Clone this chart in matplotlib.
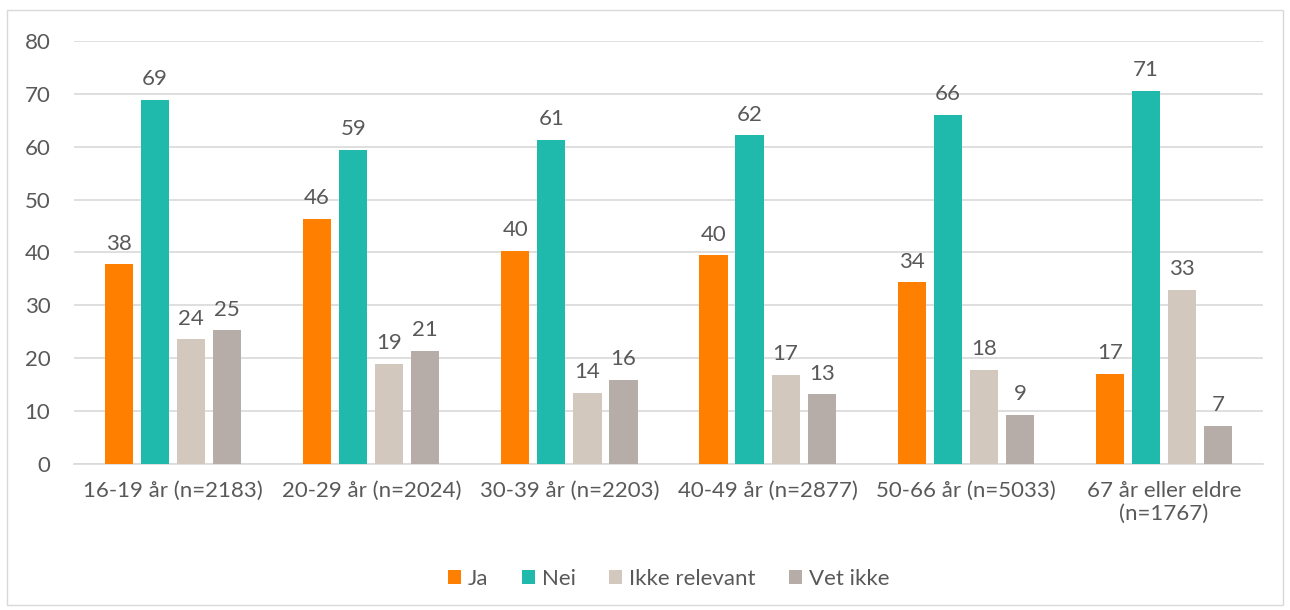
import matplotlib
matplotlib.use('Agg')
import matplotlib.pyplot as plt
import numpy as np
from matplotlib.patches import Rectangle

categories = ['16-19 år (n=2183)', '20-29 år (n=2024)', '30-39 år (n=2203)',
              '40-49 år (n=2877)', '50-66 år (n=5033)', '67 år eller eldre\n(n=1767)']
series_names = ['Ja', 'Nei', 'Ikke relevant', 'Vet ikke']
ja = [37.8, 46.4, 40.3, 39.5, 34.4, 17.1]
nei = [68.9, 59.4, 61.3, 62.2, 66.0, 70.6]
ikke_relevant = [23.6, 18.9, 13.5, 16.9, 17.8, 32.9]
vet_ikke = [25.3, 21.4, 15.9, 13.2, 9.3, 7.2]
colors = ['#FF7F00', '#20BAAD', '#D3C8BE', '#B6ADA8']

plt.rcParams['font.family'] = ['Lato', 'DejaVu Sans']
text_color = '#595959'
fs = 16

fig = plt.figure(figsize=(12.9, 6.1), dpi=100)
ax = fig.add_axes([74 / 1290, 1 - 464 / 610, (1263 - 74) / 1290, (464 - 41) / 610])

# outer chart frame
fig.patches.append(Rectangle((7 / 1290, 5 / 610), 1276 / 1290, 595 / 610,
                             transform=fig.transFigure, fill=False,
                             edgecolor='#D9D9D9', linewidth=1))

x = np.arange(len(categories))
step = 0.182
width = 0.142
all_series = [ja, nei, ikke_relevant, vet_ikke]
for i, (vals, name, c) in enumerate(zip(all_series, series_names, colors)):
    pos = x + (i - 1.5) * step
    ax.bar(pos, vals, width, color=c, label=name, zorder=3)
    for xp, v in zip(pos, vals):
        ax.text(xp, v + 2, '%d' % round(v), ha='center', va='bottom',
                fontsize=fs, color=text_color)

ax.set_xlim(-0.5, len(categories) - 0.5)
ax.set_ylim(0, 80)
ax.set_yticks(range(0, 81, 10))
ax.yaxis.grid(True, color='#D9D9D9', linewidth=1.2, zorder=0)
ax.set_axisbelow(True)
for s in ['top', 'right', 'left']:
    ax.spines[s].set_visible(False)
ax.spines['bottom'].set_color('#D9D9D9')
ax.spines['bottom'].set_linewidth(1.2)
ax.tick_params(axis='both', length=0, labelsize=fs, colors=text_color)
ax.tick_params(axis='y', pad=17)
ax.tick_params(axis='x', pad=12)
ax.set_xticks(x)
ax.set_xticklabels(categories)

ax.legend(loc='upper center', bbox_to_anchor=(0.5, -0.2), ncol=4, frameon=False,
          fontsize=fs, labelcolor=text_color, handlelength=0.6, handleheight=0.6,
          handletextpad=0.3, columnspacing=1.5)

fig.savefig('out.png', dpi=100)
